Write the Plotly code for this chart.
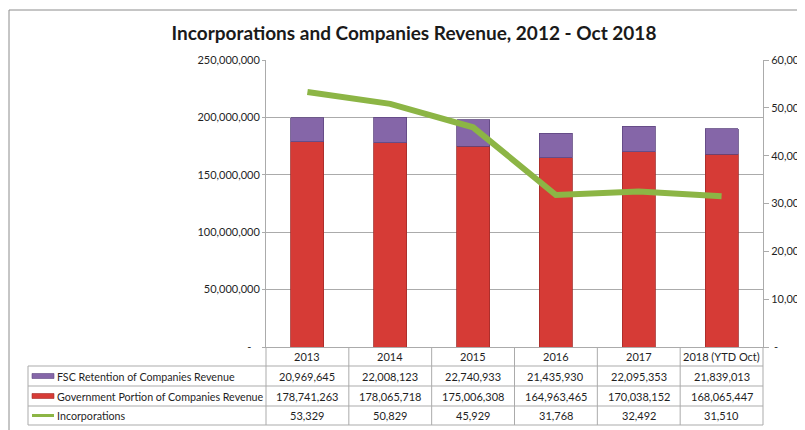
import plotly.graph_objects as go

years = ['2013', '2014', '2015', '2016', '2017', '2018 (YTD Oct)']
fsc_retention = [20969645, 22008123, 22740933, 21435930, 22095353, 21839013]
gov_portion = [178741263, 178065718, 175006308, 164963465, 170038152, 168065447]
incorporations = [53329, 50829, 45929, 31768, 32492, 31510]

left_ticks = [0, 50000000, 100000000, 150000000, 200000000, 250000000]
left_labels = ['-\u00a0\u00a0\u00a0', '50,000,000', '100,000,000', '150,000,000', '200,000,000', '250,000,000']
right_ticks = [0, 10000, 20000, 30000, 40000, 50000, 60000]
right_labels = ['\u00a0-', '10,000', '20,000', '30,000', '40,000', '50,000', '60,000']

series_names = ['FSC Retention of Companies Revenue',
                'Government Portion of Companies Revenue',
                'Incorporations']

RED = '#D63B36'
PURPLE = '#8566A8'
GREEN = '#8CB545'
GRID = '#ABABAB'
TXT = '#1F1F1F'
FONT = 'Lato'

# the page body adds an 8px margin, so the figure is 8px smaller than the window
OFF = 8
W, H = 805 - OFF, 430 - OFF
# plot area, in window pixels
L, R, T, B = 266, 763, 60, 347


def px_x(p):
    return (p - L) / (R - L)


def px_y(p):
    return (B - p) / (B - T)


fig = go.Figure()

fig.add_trace(go.Bar(
    x=years, y=gov_portion, name=series_names[1],
    marker=dict(color=RED, line=dict(color='#A32C29', width=0.8)),
))
fig.add_trace(go.Bar(
    x=years, y=fsc_retention, name=series_names[0],
    marker=dict(color=PURPLE, line=dict(color='#5E4680', width=0.8)),
))
fig.add_trace(go.Scatter(
    x=years, y=incorporations, name=series_names[2], yaxis='y2',
    mode='lines', line=dict(color=GREEN, width=6),
))

shapes = []
annotations = []

# outer chart border
shapes.append(dict(type='rect', xref='paper', yref='paper',
                   x0=px_x(9), x1=px_x(830), y0=px_y(450), y1=px_y(10),
                   line=dict(color='#8C8C8C', width=1), layer='below'))

# data table grid
row_lines = [366, 386, 406, 425]
for yy in row_lines:
    shapes.append(dict(type='line', xref='paper', yref='paper',
                       x0=px_x(28), x1=px_x(R), y0=px_y(yy), y1=px_y(yy),
                       line=dict(color=GRID, width=1)))
shapes.append(dict(type='line', xref='paper', yref='paper',
                   x0=px_x(28), x1=px_x(28), y0=px_y(366), y1=px_y(425),
                   line=dict(color=GRID, width=1)))
col_w = (R - L) / len(years)
for i in range(len(years) + 1):
    xx = L + i * col_w
    shapes.append(dict(type='line', xref='paper', yref='paper',
                       x0=px_x(xx), x1=px_x(xx), y0=px_y(B), y1=px_y(425),
                       line=dict(color=GRID, width=1)))

# header row + values (x = category index on the category axis)
rows = [fsc_retention, gov_portion, incorporations]
row_mid = [376, 396, 415.5]
for i, yr in enumerate(years):
    annotations.append(dict(x=i, y=px_y(356.5), xref='x', yref='paper',
                            text=yr, showarrow=False, yanchor='middle',
                            font=dict(size=11, color=TXT, family=FONT)))
    for vals, ym in zip(rows, row_mid):
        annotations.append(dict(x=i, y=px_y(ym), xref='x', yref='paper',
                                text=f'{vals[i]:,}', showarrow=False, yanchor='middle',
                                font=dict(size=11, color=TXT, family=FONT)))

# legend keys + labels in the table
key_cols = [(PURPLE, '#5E4680'), (RED, '#A32C29')]
for (fill, edge), ym in zip(key_cols, row_mid[:2]):
    shapes.append(dict(type='rect', xref='paper', yref='paper',
                       x0=px_x(32), x1=px_x(54), y0=px_y(ym + 2.5), y1=px_y(ym - 2.5),
                       fillcolor=fill, line=dict(color=edge, width=0.6)))
shapes.append(dict(type='line', xref='paper', yref='paper',
                   x0=px_x(32), x1=px_x(54), y0=px_y(row_mid[2]), y1=px_y(row_mid[2]),
                   line=dict(color=GREEN, width=3)))
for name, ym in zip(series_names, row_mid):
    annotations.append(dict(x=px_x(55), y=px_y(ym), xref='paper', yref='paper',
                            text=name, showarrow=False, xanchor='left', yanchor='middle',
                            font=dict(size=10.7, color=TXT, family=FONT)))

fig.update_layout(
    width=W, height=H,
    margin=dict(l=L - OFF, r=805 - R, t=T - OFF, b=430 - B, pad=0),
    paper_bgcolor='white', plot_bgcolor='white',
    barmode='stack', bargap=0.6,
    showlegend=False,
    title=dict(text='<b>Incorporations and Companies Revenue, 2012 - Oct 2018</b>',
               x=px_x(414), xref='paper', xanchor='center',
               y=1 - (33 - OFF) / H, yanchor='middle',
               font=dict(size=19, color='#1a1a1a', family=FONT)),
    xaxis=dict(type='category', categoryorder='array', categoryarray=years,
               range=[-0.5, len(years) - 0.5], autorange=False,
               showticklabels=False, showgrid=False, ticks='',
               showline=True, linecolor=GRID, linewidth=1, mirror=False),
    yaxis=dict(range=[0, 250000000], tickvals=left_ticks, ticktext=left_labels,
               showgrid=True, gridcolor=GRID, gridwidth=1, zeroline=False,
               showline=True, linecolor=GRID, linewidth=1,
               ticks='outside', ticklen=3, tickcolor=GRID,
               tickfont=dict(size=11, color=TXT, family=FONT), automargin=False),
    yaxis2=dict(range=[0, 60000], tickvals=right_ticks, ticktext=right_labels,
                overlaying='y', side='right', showgrid=False, zeroline=False,
                showline=True, linecolor=GRID, linewidth=1,
                ticks='outside', ticklen=5, tickcolor=GRID,
                tickfont=dict(size=11, color=TXT, family=FONT), automargin=False),
    shapes=shapes,
    annotations=annotations,
)

fig.write_html("out.html")
